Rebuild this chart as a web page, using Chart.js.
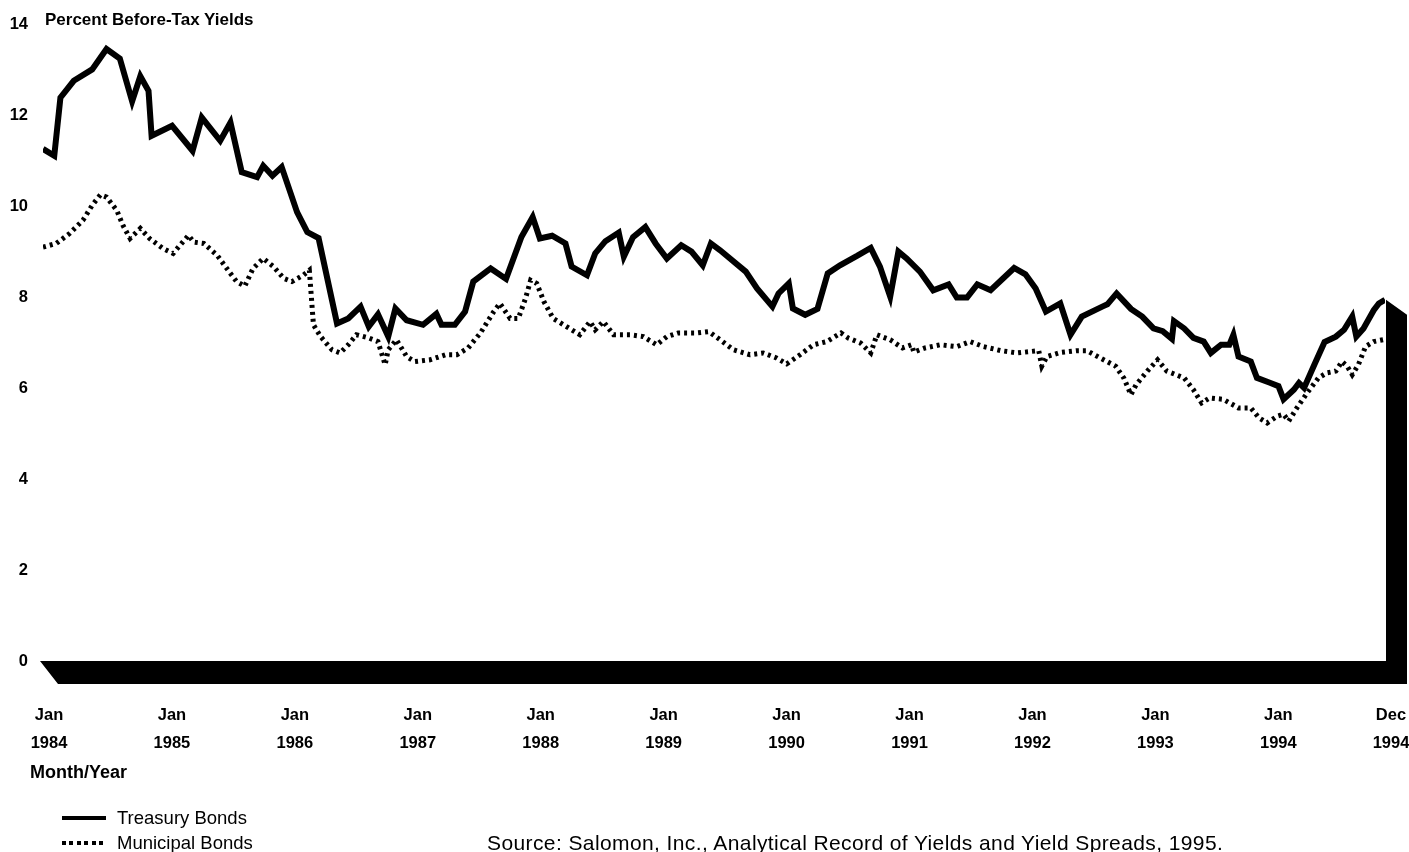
<!DOCTYPE html>
<html>
<head>
<meta charset="utf-8">
<script src="https://cdn.jsdelivr.net/npm/chart.js@4.4.1/dist/chart.umd.min.js"></script>
<style>
  html, body { margin: 0; padding: 0; background: #fff; }
  #wrap { position: relative; width: 1409px; height: 852px; overflow: hidden; font-family: "Liberation Sans", Arial, Helvetica, sans-serif; color: #000; }
  #c { position: absolute; left: 0; top: 0; }
  .txt { position: absolute; white-space: nowrap; line-height: 20px; }
  .bold { font-weight: bold; }
  .solid { position: absolute; background: #000; }
  .dots { position: absolute; background: repeating-linear-gradient(90deg, #000 0px, #000 4px, transparent 4px, transparent 7.5px); }
</style>
</head>
<body>
<div id="wrap">
  <canvas id="c" width="1409" height="852"></canvas>
  <div class="txt bold" style="left:45px; top:10px; font-size:17px;">Percent Before-Tax Yields</div>
  <div class="txt bold" style="left:30px; top:762px; font-size:18px;">Month/Year</div>
  <div class="solid" style="left:62px; top:816px; width:44px; height:4px;"></div>
  <div class="txt" style="left:117px; top:808px; font-size:18.5px;">Treasury Bonds</div>
  <div class="dots" style="left:62px; top:841px; width:44px; height:4px;"></div>
  <div class="txt" style="left:117px; top:833px; font-size:18.5px;">Municipal Bonds</div>
  <div class="txt" style="left:487px; top:833px; font-size:21px; letter-spacing:0.4px;">Source: Salomon, Inc., Analytical Record of Yields and Yield Spreads, 1995.</div>
</div>
<script>
// Months counted from Jan 1984 (0) to Dec 1994 (131)
const treasuryMonths = [0,1.1,1.7,3.0,4.8,6.2,7.5,8.7,9.5,10.3,10.6,12.6,14.6,15.5,17.3,18.3,19.4,20.9,21.5,22.4,23.3,24.8,25.8,26.9,28.7,29.8,31.0,31.8,32.7,33.7,34.4,35.5,37.1,38.4,38.9,40.2,41.2,42.0,43.7,45.2,46.7,47.8,48.5,49.7,51.0,51.6,53.1,53.9,54.9,56.2,56.7,57.6,58.8,59.8,60.9,62.3,63.3,64.4,65.2,66.1,68.6,69.7,71.2,71.8,72.8,73.2,74.4,75.6,76.6,77.8,79.5,80.8,81.7,82.7,83.5,84.3,85.6,86.9,88.4,89.2,90.2,91.2,92.5,94.8,95.9,96.9,97.9,99.3,100.3,101.4,103.4,103.9,104.8,106.2,107.3,108.4,109.3,110.2,110.4,111.4,112.3,113.3,114.0,115.0,115.8,116.2,116.7,117.9,118.5,119.7,120.6,121.1,122.1,122.6,123.1,124.1,125.1,126.2,127.0,127.8,128.2,128.9,129.9,130.4,131];
const treasuryYields = [11.27,11.12,12.40,12.77,13.02,13.47,13.26,12.32,12.87,12.55,11.56,11.78,11.23,11.96,11.45,11.85,10.76,10.65,10.90,10.68,10.87,9.88,9.44,9.31,7.43,7.54,7.80,7.36,7.63,7.14,7.76,7.50,7.40,7.64,7.40,7.40,7.69,8.35,8.64,8.41,9.33,9.77,9.30,9.36,9.19,8.68,8.49,8.97,9.24,9.43,8.90,9.33,9.55,9.19,8.86,9.15,9.01,8.71,9.19,9.04,8.57,8.20,7.80,8.09,8.31,7.76,7.62,7.75,8.53,8.71,8.92,9.09,8.68,8.02,9.01,8.86,8.57,8.16,8.29,8.00,8.00,8.29,8.16,8.65,8.51,8.20,7.69,7.87,7.18,7.58,7.80,7.85,8.09,7.75,7.58,7.32,7.26,7.09,7.48,7.32,7.11,7.03,6.78,6.96,6.96,7.18,6.70,6.59,6.23,6.13,6.05,5.76,5.97,6.12,6.01,6.52,7.02,7.14,7.29,7.58,7.14,7.32,7.72,7.87,7.95];

const municipalMonths = [0,1.3,2.6,3.9,4.8,5.6,6.2,7.2,7.8,8.5,9.5,10.4,11.7,12.7,14.2,14.7,15.7,17.0,18.3,18.9,19.7,20.5,21.5,22.5,23.5,24.3,25.4,26.0,26.4,27.1,28.2,29.0,29.8,30.6,31.8,32.7,33.4,33.7,34.5,35.5,36.3,37.8,39.3,40.4,41.5,42.7,44.0,44.6,45.6,46.4,47.1,47.6,48.2,48.9,49.8,51.1,52.4,53.4,53.9,54.7,55.7,57.3,58.6,59.9,60.9,62.0,63.8,65.0,66.1,67.4,69.0,70.3,71.6,72.6,73.9,75.2,76.5,77.9,78.6,79.8,80.8,81.4,82.7,83.9,84.8,85.0,86.1,87.6,89.2,90.5,91.8,93.5,95.1,97.2,97.5,98.0,99.3,100.9,101.9,103.2,104.7,105.5,106.2,106.7,107.8,108.8,109.7,111.4,112.3,113.1,113.9,115.2,116.7,117.9,118.7,119.5,120.5,121.1,121.6,122.4,123.4,124.5,125.3,126.2,126.8,127.3,127.8,128.4,129.1,129.9,131];
const municipalYields = [9.11,9.19,9.41,9.70,10.03,10.26,10.21,9.92,9.59,9.30,9.52,9.30,9.08,8.97,9.37,9.22,9.19,8.93,8.53,8.35,8.25,8.64,8.86,8.68,8.42,8.35,8.49,8.60,7.40,7.14,6.85,6.78,6.96,7.18,7.11,7.03,6.52,6.85,7.07,6.70,6.59,6.63,6.74,6.74,6.89,7.22,7.69,7.87,7.54,7.54,7.98,8.38,8.31,7.91,7.54,7.36,7.18,7.47,7.29,7.47,7.18,7.18,7.14,6.96,7.14,7.22,7.22,7.25,7.07,6.85,6.74,6.78,6.67,6.54,6.74,6.96,7.03,7.22,7.11,7.00,6.78,7.18,7.07,6.89,6.96,6.80,6.89,6.96,6.92,7.03,6.92,6.83,6.78,6.83,6.49,6.70,6.79,6.83,6.83,6.67,6.49,6.23,5.86,6.08,6.38,6.63,6.38,6.23,5.97,5.68,5.79,5.76,5.57,5.57,5.35,5.24,5.39,5.43,5.28,5.57,5.90,6.23,6.34,6.38,6.59,6.49,6.30,6.52,6.92,7.03,7.08];

const tickMonths = [0,12,24,36,48,60,72,84,96,108,120,131];
const tickLabels = [["Jan","1984"],["Jan","1985"],["Jan","1986"],["Jan","1987"],["Jan","1988"],["Jan","1989"],["Jan","1990"],["Jan","1991"],["Jan","1992"],["Jan","1993"],["Jan","1994"],["Dec","1994"]];
const yTicks = [0,2,4,6,8,10,12,14];

const FONT = '"Liberation Sans", Arial, Helvetica, sans-serif';

const base3d = {
  id: 'base3d',
  beforeDatasetsDraw(chart) {
    const {ctx, scales: {x, y}} = chart;
    const x0 = x.getPixelForValue(tickMonths[0]);
    const x1 = x.getPixelForValue(tickMonths[tickMonths.length - 1]);
    const yb = y.getPixelForValue(0);
    const yt = y.getPixelForValue(treasuryYields[treasuryYields.length - 1]);
    ctx.save();
    ctx.fillStyle = '#000';
    ctx.beginPath();
    ctx.moveTo(x0 - 3, yb);
    ctx.lineTo(x1 + 1, yb);
    ctx.lineTo(x1 + 1, yt);
    ctx.lineTo(x1 + 22, yt + 15);
    ctx.lineTo(x1 + 22, yb + 23);
    ctx.lineTo(x0 + 15, yb + 23);
    ctx.closePath();
    ctx.fill();
    ctx.restore();
  }
};

new Chart(document.getElementById('c'), {
  type: 'line',
  data: {
    datasets: [
      {
        label: 'Treasury Bonds',
        data: treasuryMonths.map((m, i) => ({x: m, y: treasuryYields[i]})),
        borderColor: '#000',
        borderWidth: 6,
        pointRadius: 0,
        tension: 0,
        borderJoinStyle: 'miter',
        fill: false
      },
      {
        label: 'Municipal Bonds',
        data: municipalMonths.map((m, i) => ({x: m, y: municipalYields[i]})),
        borderColor: '#000',
        borderWidth: 5,
        borderDash: [3, 4],
        pointRadius: 0,
        tension: 0,
        fill: false
      }
    ]
  },
  options: {
    responsive: false,
    animation: false,
    devicePixelRatio: 1,
    layout: { padding: { top: 22, right: 24, left: 0, bottom: 0 } },
    plugins: { legend: { display: false }, tooltip: { enabled: false } },
    scales: {
      x: {
        type: 'linear',
        min: 0,
        max: 131,
        grid: { display: false, drawTicks: false },
        border: { display: false },
        afterBuildTicks(scale) { scale.ticks = tickMonths.map(v => ({value: v})); },
        afterFit(scale) { scale.height = 191; scale.paddingLeft = 10; scale.paddingRight = 10; },
        ticks: {
          autoSkip: false,
          maxRotation: 0,
          minRotation: 0,
          padding: 40,
          labelOffset: 6,
          color: '#000',
          font: { family: FONT, size: 16.5, weight: 'bold', lineHeight: 1.7 },
          callback(value) { const i = tickMonths.indexOf(value); return i >= 0 ? tickLabels[i] : ''; }
        }
      },
      y: {
        min: 0,
        max: 14,
        grid: { display: false, drawTicks: false },
        border: { display: false },
        afterBuildTicks(scale) { scale.ticks = yTicks.map(v => ({value: v})); },
        afterFit(scale) { scale.width = 43; },
        ticks: {
          padding: 15,
          color: '#000',
          font: { family: FONT, size: 16.5, weight: 'bold' }
        }
      }
    }
  },
  plugins: [base3d]
});
</script>
</body>
</html>
